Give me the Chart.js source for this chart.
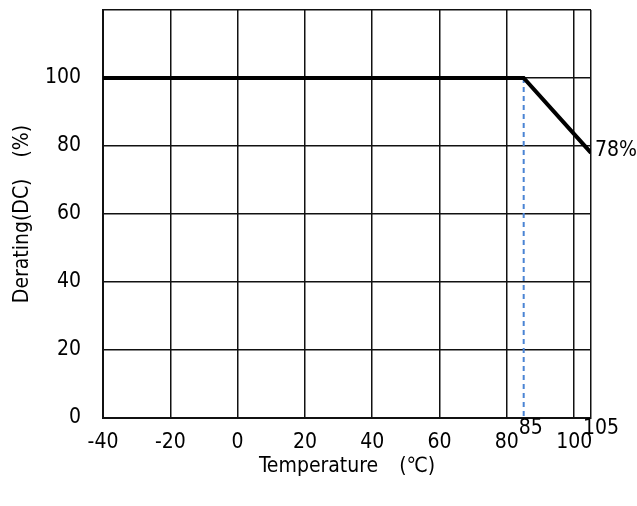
<!DOCTYPE html>
<html>
<head>
<meta charset="utf-8">
<script src="https://cdn.jsdelivr.net/npm/chart.js@4"></script>
<style>
  html, body { margin: 0; padding: 0; background: #fff; }
  #grafico { display: block; }
</style>
</head>
<body>
<canvas id="grafico" width="637" height="506"></canvas>
<script>
// dados
const temperaturas = [-40, 85, 105];
const derating = [100, 100, 78];
const linhaGuia = [85, 85];
const linhaGuiaY = [100, 0];
const ticksX = [-40, -20, 0, 20, 40, 60, 80, 100, 105];
const ticksExtra = [85, 105];
const rotuloFinal = "78%";

const FONTE = '"DejaVu Sans Condensed", "Liberation Sans Narrow", "Noto Sans CJK JP", sans-serif';
const TAM = 21;

/* rotulos 85 / 105 e 78% */
const rotulos = {
  id: "rotulos",
  afterDraw(chart) {
    const ctx = chart.ctx;
    const x = chart.scales.x, y = chart.scales.y;
    ctx.save();
    ctx.fillStyle = "#000";
    ctx.font = TAM + "px " + FONTE;
    ctx.textBaseline = "top";
    ctx.textAlign = "left";
    ticksExtra.forEach((v, i) => {
      const px = x.getPixelForValue(v);
      ctx.fillText(String(v), i === 0 ? px - 5 : px - 8, y.bottom);
    });
    ctx.textBaseline = "middle";
    const ultimo = temperaturas.length - 1;
    ctx.fillText(rotuloFinal, x.getPixelForValue(temperaturas[ultimo]) + 4, y.getPixelForValue(derating[ultimo]) - 2);
    ctx.restore();
  }
};

new Chart(document.getElementById("grafico"), {
  type: "line",
  data: {
    datasets: [
      {
        data: temperaturas.map((t, i) => ({ x: t, y: derating[i] })),
        borderColor: "#000",
        borderWidth: 4,
        pointRadius: 0,
        tension: 0,
        order: 0
      },
      {
        data: linhaGuia.map((t, i) => ({ x: t, y: linhaGuiaY[i] })),
        borderColor: "#4a84d4",
        borderWidth: 2,
        borderDash: [5, 4],
        pointRadius: 0,
        order: 1
      }
    ]
  },
  options: {
    responsive: false,
    devicePixelRatio: 1,
    animation: false,
    layout: { padding: { top: 10, right: 46, left: 0, bottom: 0 } },
    plugins: { legend: { display: false }, tooltip: { enabled: false } },
    scales: {
      x: {
        type: "linear",
        min: -40,
        max: 105,
        afterBuildTicks: s => { s.ticks = ticksX.map(v => ({ value: v })); },
        afterFit: s => { s.height = 88; s.paddingLeft = 0; s.paddingRight = 0; },
        grid: { color: "#111", lineWidth: 1.5, drawTicks: false },
        border: { color: "#111", width: 2 },
        ticks: {
          padding: 12,
          maxRotation: 0,
          autoSkip: false,
          color: "#000",
          font: { family: FONTE, size: TAM },
          callback: v => (v === 105 ? "" : String(v))
        },
        title: {
          display: true,
          text: "Temperature\u3000(\u2103)",
          color: "#000",
          font: { family: FONTE, size: TAM },
          padding: { top: 0, bottom: 27 }
        }
      },
      y: {
        min: 0,
        max: 120,
        ticks: {
          stepSize: 20,
          padding: 22,
          color: "#000",
          font: { family: FONTE, size: TAM },
          callback: v => (v === 120 ? "" : String(v))
        },
        afterFit: s => { s.width = 103; s.paddingTop = 0; s.paddingBottom = 0; },
        grid: { color: "#111", lineWidth: 1.5, drawTicks: false },
        border: { color: "#111", width: 2 },
        title: {
          display: true,
          text: "Derating(DC)\u3000(%)",
          color: "#000",
          font: { family: FONTE, size: TAM },
          padding: { top: 10, bottom: 0 }
        }
      }
    }
  },
  plugins: [rotulos]
});
</script>
</body>
</html>
